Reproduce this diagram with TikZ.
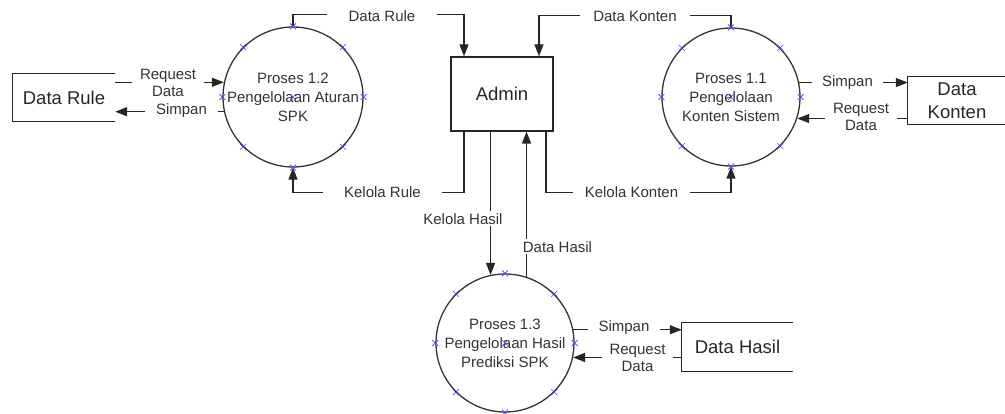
\documentclass[tikz,border=0pt]{standalone}
\usepackage{fontspec}
\setmainfont{Liberation Sans}
\usetikzlibrary{arrows.meta}

\begin{document}
\begin{tikzpicture}[x=1pt,y=-1pt,
  wire/.style={draw=black!85, line width=1.3pt},
  flow/.style={wire, -{Triangle[length=12pt,width=9pt]}},
  proc/.style={circle, draw=black!80, line width=1.3pt, minimum size=138pt,
    inner sep=0pt, align=center, font=\fontsize{15}{19}\selectfont, text=black!80},
  entity/.style={draw=black!85, line width=1.3pt, minimum width=102pt,
    minimum height=74pt, inner sep=0pt, font=\fontsize{18.5}{22}\selectfont, text=black!85},
  store/.style={inner sep=0pt, align=center, font=\fontsize{18.5}{23}\selectfont, text=black!85},
  lbl/.style={fill=white, inner sep=0pt, minimum height=15pt, align=center,
    font=\fontsize{15}{17}\selectfont, text=black!80},
  xmk/.style={draw=blue!75, line width=0.6pt},
]
\useasboundingbox (0,0) rectangle (1005,414);

% processes and the external entity
\node[proc] (c12) at (293,97) {Proses 1.2\\Pengelolaan Aturan\\SPK};
\node[proc] (c11) at (731,97) {Proses 1.1\\Pengelolaan\\Konten Sistem};
\node[proc] (c13) at (505,343) {Proses 1.3\\Pengelolaan Hasil\\Prediksi SPK};
\node[entity] (adm) at (502,94) {Admin};

% data stores (open on the right)
\node[store, minimum width=102pt, minimum height=47pt] (dr) at (64,97.5) {Data Rule};
\node[store, minimum width=98pt, minimum height=47pt] (dk) at (957,100.5) {Data\\Konten};
\node[store, minimum width=111pt, minimum height=48pt] (dh) at (737.5,347) {Data Hasil};
\foreach \s in {dr,dk,dh}
  \draw[wire] (\s.north east) -- (\s.north west) -- (\s.south west) -- (\s.south east);

% flows between Admin and the processes
\draw[flow] (c12.north) -- ++(0,-12) -| ([xshift=-38pt]adm.north);
\draw[flow] (c11.north) -- ++(0,-12) -| ([xshift=37pt]adm.north);
\draw[flow] ([xshift=-38pt]adm.south) -- ++(0,61) -| (c12.south);
\draw[flow] ([xshift=44pt]adm.south) -- ++(0,61) -| (c11.south);
\draw[flow] (c13.102 |- adm.south) -- (c13.102);
\draw[flow] (c13.72) -- (c13.72 |- adm.south);

% flows between the processes and the stores
\draw[flow] (dr.east |- c12.168) -- (c12.168);
\draw[flow] (c12.192) -- (dr.east |- c12.192);
\draw[flow] (c11.12) -- (dk.west |- c11.12);
\draw[flow] (dk.west |- c11.342) -- (c11.342);
\draw[flow] (c13.11) -- (dh.west |- c13.11);
\draw[flow] (dh.west |- c13.348) -- (c13.348);

% flow labels
\node[lbl, minimum width=110pt] (l1) at (382,16) {Data Rule};
\node[lbl, minimum width=110pt] (l2) at (635,16) {Data Konten};
\node[lbl, minimum width=119pt] (l3) at (382.5,192) {Kelola Rule};
\node[lbl, minimum width=117pt] (l4) at (631.5,192) {Kelola Konten};
\node[lbl] (l5) at (463,219) {Kelola Hasil};
\node[lbl] (l6) at (557.5,247) {Data Hasil};
\node[lbl, minimum width=72pt] (l7) at (168,83) {Request\\Data};
\node[lbl, minimum width=73pt] (l8) at (181.5,111) {Simpan};
\node[lbl, minimum width=71pt] (l9) at (847.5,83) {Simpan};
\node[lbl, minimum width=72pt] (l10) at (861,117) {Request\\Data};
\node[lbl, minimum width=72pt] (l11) at (624,328) {Simpan};
\node[lbl, minimum width=71pt] (l12) at (637.5,358) {Request\\Data};

% connection points on each process circle
\foreach \c in {c12,c11,c13} {
  \foreach \a in {0,45,...,315}
    \draw[xmk] (\c.\a) +(-3,-3) -- +(3,3) +(-3,3) -- +(3,-3);
  \draw[xmk] (\c.center) +(-3,-3) -- +(3,3) +(-3,3) -- +(3,-3);
}
\end{tikzpicture}
\end{document}
